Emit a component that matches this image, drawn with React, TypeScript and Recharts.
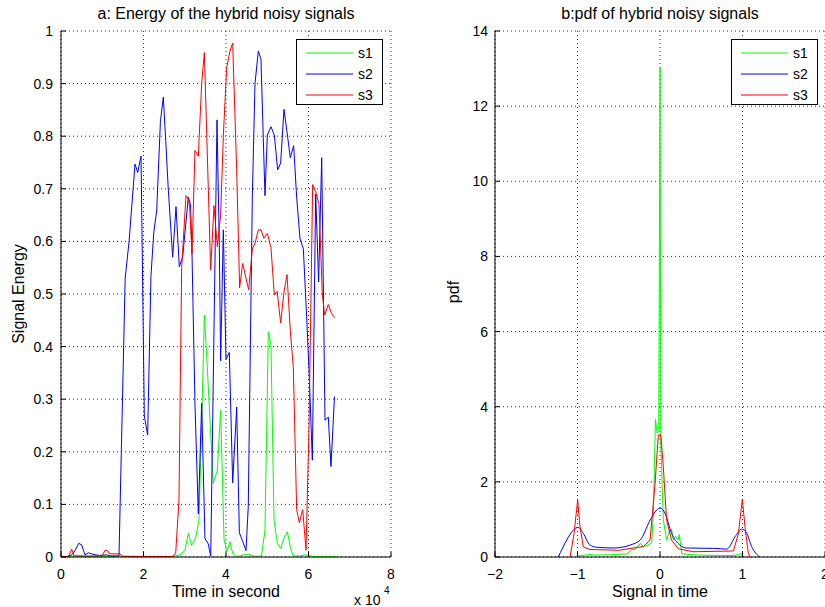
import React from 'react';
import { LineChart, Line, XAxis, YAxis, CartesianGrid, Legend } from 'recharts';

// ---------- ticks ----------
const energyTicksX = [0, 20000, 40000, 60000, 80000];
const energyTicksY = [0, 0.1, 0.2, 0.3, 0.4, 0.5, 0.6, 0.7, 0.8, 0.9, 1];
const pdfTicksX = [-2, -1, 0, 1, 2];
const pdfTicksY = [0, 2, 4, 6, 8, 10, 12, 14];

// ---------- series names / colours ----------
const seriesNames = ['s1', 's2', 's3'];
const seriesColors = ['#00ff00', '#0000ff', '#ff0000'];

// ---------- a: energy (time, energy) ----------
const s1Energy: [number, number][] = [
  [0, 0.001], [2000, 0.001], [4000, 0.002], [6000, 0.001], [10000, 0.001], [14000, 0.002],
  [20000, 0.001], [27000, 0.001], [28850, 0.004], [30060, 0.013], [30870, 0.045], [31680, 0.022],
  [32640, 0.036], [33450, 0.07], [34100, 0.25], [34750, 0.46], [35470, 0.36], [36280, 0.235],
  [36930, 0.14], [37900, 0.165], [38700, 0.279], [39520, 0.034], [40160, 0.01], [40970, 0.029],
  [41620, 0.007], [42500, 0.001], [43500, 0.002], [44500, 0.005], [45500, 0.005], [46500, 0.002],
  [47600, 0.001], [48600, 0.002], [49450, 0.051], [50260, 0.428], [50900, 0.403], [51640, 0.07],
  [52440, 0.026], [53250, 0.016], [54060, 0.036], [54870, 0.048], [55670, 0.016], [56320, 0.002],
  [58000, 0.002], [59000, 0.004], [60000, 0.003], [61000, 0.001], [66800, 0.001],
];

const s2Energy: [number, number][] = [
  [0, 0.001], [1500, 0.001], [2600, 0.004], [3400, 0.012], [4270, 0.026], [5000, 0.023],
  [5820, 0.004], [6630, 0.008], [7400, 0.006], [8500, 0.004], [9400, 0.003], [11000, 0.004],
  [12000, 0.002], [14060, 0.002], [15560, 0.53], [16500, 0.6], [17940, 0.747], [18590, 0.731],
  [19400, 0.762], [20200, 0.268], [21000, 0.232], [21800, 0.533], [22500, 0.618], [23200, 0.658],
  [24100, 0.828], [24800, 0.874], [25400, 0.79], [26000, 0.7], [27070, 0.57], [27880, 0.666],
  [28680, 0.552], [29500, 0.571], [30870, 0.684], [31400, 0.67], [31760, 0.576], [32480, 0.29],
  [33290, 0.082], [34100, 0.292], [34900, 0.035], [35700, 0.025], [36300, 0.002], [37820, 0.831],
  [38380, 0.592], [38700, 0.373], [39350, 0.622], [40000, 0.376], [40800, 0.389], [41620, 0.141],
  [42590, 0.285], [43240, 0.046], [44040, 0.03], [44850, 0.012], [45400, 0.096], [46380, 0.684],
  [47030, 0.9], [47840, 0.962], [48480, 0.946], [49450, 0.687], [50020, 0.802], [50900, 0.818],
  [51720, 0.802], [52520, 0.736], [53250, 0.749], [54060, 0.851], [54790, 0.808], [55590, 0.759],
  [56400, 0.782], [57130, 0.684], [57940, 0.605], [58750, 0.586], [59560, 0.455], [60120, 0.357],
  [60930, 0.184], [61740, 0.69], [62450, 0.523], [63200, 0.759], [64000, 0.26], [64800, 0.266],
  [65450, 0.172], [66300, 0.305],
];

const s3Energy: [number, number][] = [
  [0, 0.001], [1800, 0.001], [2600, 0.015], [3200, 0.002], [6000, 0.002], [9000, 0.002],
  [10000, 0.003], [10700, 0.013], [11300, 0.012], [11770, 0.006], [14300, 0.006], [15000, 0.001],
  [27000, 0.001], [27800, 0.007], [28600, 0.108], [29250, 0.55], [30300, 0.687], [30870, 0.68],
  [31200, 0.665], [31760, 0.576], [32480, 0.773], [33290, 0.762], [34100, 0.9], [34750, 0.959],
  [36280, 0.546], [37090, 0.668], [37900, 0.59], [38700, 0.65], [39350, 0.8], [40160, 0.93],
  [40970, 0.962], [41620, 0.977], [42590, 0.736], [43300, 0.512], [44040, 0.558], [44850, 0.53],
  [45500, 0.508], [46380, 0.586], [47030, 0.596], [47840, 0.622], [48480, 0.622], [49200, 0.606],
  [50020, 0.615], [50900, 0.588], [51720, 0.498], [52400, 0.505], [53250, 0.445], [54060, 0.504],
  [54790, 0.537], [55590, 0.43], [56320, 0.36], [57130, 0.09], [57780, 0.065], [58590, 0.09],
  [59400, 0.013], [60120, 0.245], [61010, 0.708], [61740, 0.695], [62550, 0.67], [63350, 0.5],
  [63900, 0.46], [64800, 0.48], [65600, 0.463], [66300, 0.455],
];

// ---------- b: pdf (signal value, density) ----------
const s1Pdf: [number, number][] = [
  [-1.0, 0], [-0.98, 0.04], [-0.9, 0.05], [-0.85, 0.07], [-0.8, 0.05], [-0.6, 0.06], [-0.45, 0.08],
  [-0.4, 0.08], [-0.34, 0.2], [-0.3, 0.2], [-0.24, 0.36], [-0.2, 0.28], [-0.16, 0.3], [-0.12, 0.35],
  [-0.1, 0.4], [-0.08, 1.16], [-0.055, 3.66], [-0.035, 3.3], [-0.015, 3.4], [0.0, 13.03],
  [0.01, 3.0], [0.04, 1.0], [0.08, 0.45], [0.12, 0.72], [0.14, 0.74], [0.16, 0.45], [0.19, 0.55],
  [0.22, 0.45], [0.234, 0.6], [0.263, 0.09], [0.32, 0.07], [0.5, 0.05], [0.73, 0.04], [0.9, 0.04],
  [0.98, 0.09], [1.0, 0],
];

const s2Pdf: [number, number][] = [
  [-1.232, 0], [-1.131, 0.45], [-1.05, 0.72], [-0.99, 0.79], [-0.93, 0.63], [-0.85, 0.32],
  [-0.77, 0.26], [-0.56, 0.24], [-0.36, 0.32], [-0.24, 0.45], [-0.12, 0.98], [-0.04, 1.25],
  [0, 1.3], [0.06, 1.17], [0.14, 0.63], [0.24, 0.32], [0.32, 0.24], [0.65, 0.23], [0.81, 0.21],
  [0.91, 0.54], [0.99, 0.74], [1.05, 0.64], [1.11, 0.28], [1.21, 0],
];

const s3Pdf: [number, number][] = [
  [-1.09, 0], [-1.042, 0.62], [-0.998, 1.52], [-0.97, 0.81], [-0.93, 0.27], [-0.85, 0.2],
  [-0.5, 0.18], [-0.2, 0.28], [-0.12, 0.45], [-0.06, 1.96], [-0.02, 3.25], [0.01, 3.25],
  [0.04, 2.4], [0.08, 0.98], [0.14, 0.45], [0.22, 0.22], [0.4, 0.14], [0.89, 0.16], [0.95, 0.62],
  [0.998, 1.54], [1.03, 0.81], [1.07, 0.1], [1.09, 0],
];

const energySeries = [s1Energy, s2Energy, s3Energy];
const pdfSeries = [s1Pdf, s2Pdf, s3Pdf];

const toPoints = (arr: [number, number][]) => arr.map(([x, y]) => ({ x, y }));
const FONT = '"Liberation Sans", Arial, Helvetica, sans-serif';
const minus = (v: number) => String(v).replace('-', '\u2212');

const LegendBox = (props: any) => {
  const payload = props.payload || [];
  return (
    <div style={{ width: 87, height: 66, boxSizing: 'border-box', border: '1.5px solid #000', background: '#fff' }}>
      <svg width={84} height={63} style={{ display: 'block' }}>
        {payload.map((p: any, i: number) => (
          <g key={i}>
            <line x1={9} x2={56} y1={13 + i * 21} y2={13 + i * 21} stroke={p.color} strokeWidth={1} />
            <text x={61} y={18 + i * 21} fontSize={14} fill="#000" fontFamily={FONT}>{p.value}</text>
          </g>
        ))}
      </svg>
    </div>
  );
};

const axisCommon = {
  stroke: '#000',
  tickSize: -5,
  tick: { fill: '#000', fontSize: 14 },
  allowDataOverflow: true,
  interval: 0 as const,
};

function EnergyChart() {
  return (
    <LineChart width={420} height={607} margin={{ top: 31, right: 29, bottom: 0, left: 0 }}>
      <CartesianGrid stroke="#333" strokeDasharray="1 3" />
      <XAxis {...axisCommon} dataKey="x" type="number" domain={[0, 80000]} ticks={energyTicksX}
        tickFormatter={(v: number) => String(v / 10000)} tickMargin={17} height={50} />
      <XAxis {...axisCommon} xAxisId="top" orientation="top" dataKey="x" type="number" domain={[0, 80000]}
        ticks={energyTicksX} tick={false} height={0} />
      <YAxis {...axisCommon} type="number" domain={[0, 1]} ticks={energyTicksY} tickMargin={13} width={61} />
      <YAxis {...axisCommon} yAxisId="right" orientation="right" type="number" domain={[0, 1]}
        ticks={energyTicksY} tick={false} width={0} />
      {energySeries.map((s, i) => (
        <Line key={seriesNames[i]} data={toPoints(s)} dataKey="y" name={seriesNames[i]} stroke={seriesColors[i]}
          strokeWidth={1} dot={false} activeDot={false} isAnimationActive={false} type="linear" />
      ))}
      <Legend layout="vertical" align="center" verticalAlign="middle" content={<LegendBox />}
        wrapperStyle={{ left: 296, top: 39, width: 87, height: 66 }} />
    </LineChart>
  );
}

function PdfChart() {
  return (
    <LineChart width={405} height={607} margin={{ top: 31, right: 0, bottom: 0, left: 0 }}>
      <CartesianGrid stroke="#333" strokeDasharray="1 3" />
      <XAxis {...axisCommon} dataKey="x" type="number" domain={[-2, 2]} ticks={pdfTicksX}
        tickFormatter={minus} tickMargin={17} height={50} />
      <XAxis {...axisCommon} xAxisId="top" orientation="top" dataKey="x" type="number" domain={[-2, 2]}
        ticks={pdfTicksX} tick={false} height={0} />
      <YAxis {...axisCommon} type="number" domain={[0, 14]} ticks={pdfTicksY} tickMargin={12} width={75} />
      <YAxis {...axisCommon} yAxisId="right" orientation="right" type="number" domain={[0, 14]}
        ticks={pdfTicksY} tick={false} width={0} />
      {pdfSeries.map((s, i) => (
        <Line key={seriesNames[i]} data={toPoints(s)} dataKey="y" name={seriesNames[i]} stroke={seriesColors[i]}
          strokeWidth={1} dot={false} activeDot={false} isAnimationActive={false}
          type={i === 1 ? 'monotone' : 'linear'} />
      ))}
      <Legend layout="vertical" align="center" verticalAlign="middle" content={<LegendBox />}
        wrapperStyle={{ left: 311, top: 39, width: 87, height: 66 }} />
    </LineChart>
  );
}

export default function App() {
  return (
    <div style={{ position: 'absolute', left: 0, top: 0, width: 825, height: 607, background: '#fff', fontFamily: FONT, overflow: 'hidden' }}>
      <div style={{ position: 'absolute', left: 0, top: 0 }}>
        <EnergyChart />
      </div>
      <div style={{ position: 'absolute', left: 420, top: 0 }}>
        <PdfChart />
      </div>
      <svg width={825} height={607} style={{ position: 'absolute', left: 0, top: 0, pointerEvents: 'none' }}>
        <g fontFamily={FONT} fill="#000">
          <text x={226} y={18.5} fontSize={16} textAnchor="middle">a: Energy of the hybrid noisy signals</text>
          <text x={660} y={18.5} fontSize={16} textAnchor="middle">b:pdf of hybrid noisy signals</text>
          <text x={226} y={597} fontSize={16} textAnchor="middle">Time in second</text>
          <text x={660} y={597} fontSize={16} textAnchor="middle">Signal in time</text>
          <text x={23.5} y={294} fontSize={16} textAnchor="middle" transform="rotate(-90 23.5 294)">Signal Energy</text>
          <text x={459} y={292} fontSize={16} textAnchor="middle" transform="rotate(-90 459 292)">pdf</text>
          <text x={354} y={605} fontSize={14}>x 10</text>
          <text x={384} y={594} fontSize={10}>4</text>
        </g>
      </svg>
    </div>
  );
}
